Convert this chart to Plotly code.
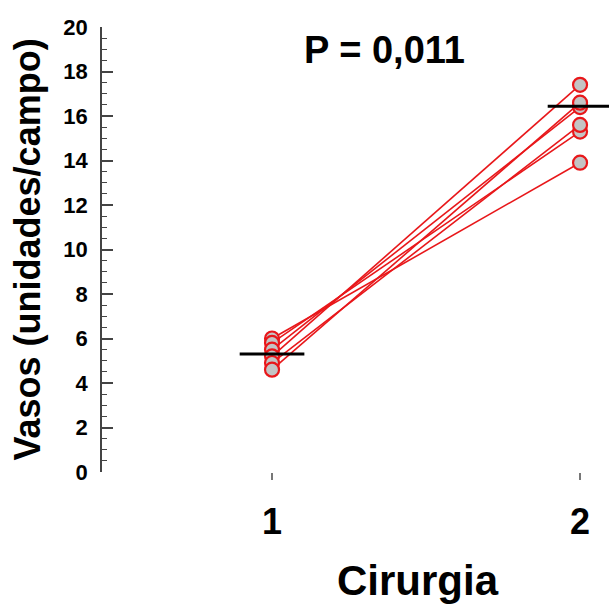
import plotly.graph_objects as go

# Data
groups = [1, 2]
group_labels = ["1", "2"]
cirurgia1 = [6.0, 5.8, 5.5, 5.2, 4.9, 4.6]
cirurgia2 = [13.9, 15.3, 16.4, 17.4, 15.6, 16.6]
center_values = [5.3, 16.44]
y_ticks = [0, 2, 4, 6, 8, 10, 12, 14, 16, 18, 20]
p_text = "P = 0,011"

RED = "#e8171a"
FONT = "Liberation Sans, Arial, sans-serif"

fig = go.Figure()

for a, b in zip(cirurgia1, cirurgia2):
    fig.add_trace(go.Scatter(
        x=groups, y=[a, b], mode="lines+markers",
        line=dict(color=RED, width=1.6),
        marker=dict(size=14, color="#c4c4c4", line=dict(color=RED, width=2.2)),
        showlegend=False, hoverinfo="skip"))

half = 0.105
for g, v in zip(groups, center_values):
    fig.add_trace(go.Scatter(
        x=[g - half, g + half], y=[v, v], mode="lines",
        line=dict(color="black", width=3), showlegend=False, hoverinfo="skip"))

W, H = 609, 604
L, R, T, B = 102, 0, 27, 132

fig.update_layout(
    width=W, height=H,
    margin=dict(l=L, r=R, t=T, b=B, autoexpand=False),
    paper_bgcolor="white", plot_bgcolor="white",
    font=dict(family=FONT, color="black"),
    xaxis=dict(
        range=[0.448, 2.094], tickvals=groups, ticktext=group_labels,
        showgrid=False, zeroline=False, showline=False, automargin=False,
        ticks="outside", ticklen=7, tickwidth=1.5, tickcolor="#777",
        tickfont=dict(size=36, family=FONT, color="black", weight="bold"),
        ticklabelstandoff=11,
    ),
    yaxis=dict(
        range=[0, 20], tickvals=y_ticks, automargin=False,
        showgrid=False, zeroline=False,
        showline=True, linecolor="#444", linewidth=1.5,
        ticks="inside", ticklen=11, tickwidth=1.5, tickcolor="#444",
        minor=dict(dtick=0.5, ticks="inside", ticklen=5, tickwidth=1.2, tickcolor="#444"),
        tickfont=dict(size=22, family=FONT, color="black", weight="bold"),
        ticklabelstandoff=8,
    ),
    annotations=[
        dict(text="<b>" + p_text + "</b>", xref="paper", yref="paper",
             x=0.558, y=0.949, xanchor="center", yanchor="middle", showarrow=False,
             font=dict(size=38, family=FONT, color="black")),
        dict(text="<b>Cirurgia</b>", xref="paper", yref="paper",
             x=0.623, y=-0.243, xanchor="center", yanchor="middle", showarrow=False,
             font=dict(size=42, family=FONT, color="black")),
        dict(text="<b>Vasos (unidades/campo)</b>", xref="paper", yref="paper",
             x=-0.146, y=0.5, xanchor="center", yanchor="middle", showarrow=False,
             textangle=-90,
             font=dict(size=36, family=FONT, color="black")),
    ],
)

fig.write_html("out.html", config={"displayModeBar": False},
               post_script="document.body.style.margin='0';")
